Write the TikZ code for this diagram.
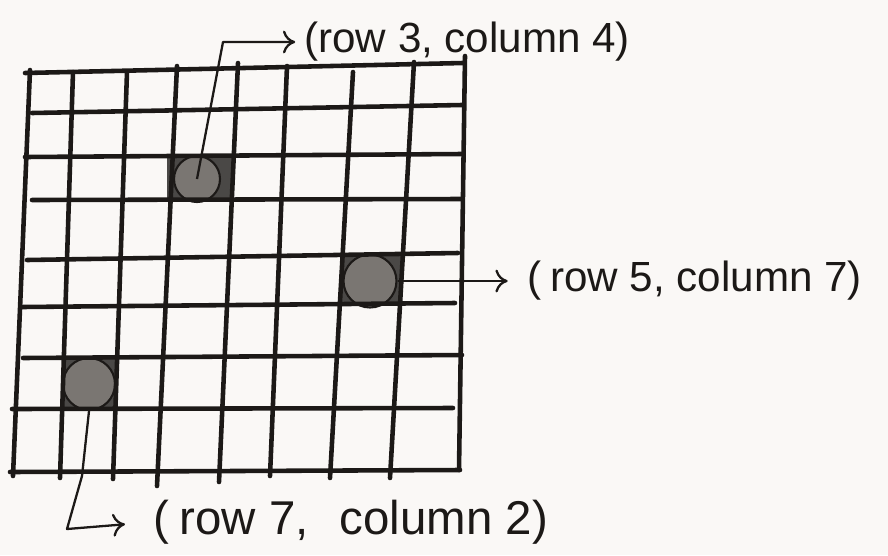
\documentclass[tikz,border=0pt]{standalone}
\usepackage{fontspec}
\setmainfont{Liberation Sans}
\usetikzlibrary{arrows.meta}
\tikzset{>={To[length=7pt,width=13pt]}}
\definecolor{ink}{HTML}{1C1917}
\definecolor{paper}{HTML}{FAF8F6}
\definecolor{cellfill}{HTML}{4A4846}
\definecolor{dotfill}{HTML}{7A7672}
\tikzset{
  gridline/.style={ink,line width=2.6pt,line cap=round},
  pixdot/.style={circle,fill=dotfill,draw=ink,line width=1.2pt,inner sep=0pt},
  lead/.style={ink,line width=1.3pt,->,line join=round},
  tag/.style={anchor=west,inner sep=0pt,text=ink,font=\fontsize{24}{28}\selectfont},
}
\newcommand{\shadecell}[4]{\fill[cellfill] (#1,#2) rectangle (#3,#4);}

\begin{document}
\begin{tikzpicture}[x=0.02cm,y=-0.02cm]
\fill[paper] (0,0) rectangle (888,555);
\useasboundingbox (0,0) rectangle (888,555);
% marked pixels
\shadecell{167}{157}{232}{200}
\shadecell{340}{256}{402}{306}
\shadecell{62}{358}{117}{409}
\node[pixdot,minimum size=0.92cm] (c34) at (197,179) {};
\node[pixdot,minimum size=1.06cm] (c57) at (370,281) {};
\node[pixdot,minimum size=1.04cm] (c72) at (89,384) {};
% the grid, drawn by hand
\foreach \xa/\ya/\xb/\yb in {25/73/463/63, 32/113/462/105, 25/157/462/154,
    32/200/462/199, 27/260/458/253, 22/307/455/303, 23/358/462/355,
    12/409/453/408, 10/472/460/470}
  \draw[gridline] (\xa,\ya) -- (\xb,\yb);
\foreach \xa/\ya/\xb/\yb in {30/70/13/476, 73/72/60/478, 127/72/113/479,
    177/66/157/486, 238/63/219/482, 287/66/270/476, 353/72/330/478,
    414/62/390/478, 465/56/459/470}
  \draw[gridline] (\xa,\ya) -- (\xb,\yb);
% labels
\node[tag] (l34) at (304,42) {(row 3, column 4)};
\node[tag] (l57) at (527,281) {(\hspace{5pt}row 5, column 7)};
\node[tag,font=\fontsize{27}{30}\selectfont] (l72) at (153,522) {(\hspace{6pt}row 7,\hspace{10pt} column 2)};
% leaders
\coordinate (b34) at (223,42);
\coordinate (k72) at (82,476);
\coordinate (b72) at (67,529);
\draw[lead,shorten >=5pt] (c34.center) -- (b34) -- (l34.west);
\draw[lead,shorten >=11pt] (c57.east) -- (l57.west);
\draw[lead,shorten >=16pt] (c72.south) -- (k72) -- (b72) -- (l72.west);
\end{tikzpicture}
\end{document}
